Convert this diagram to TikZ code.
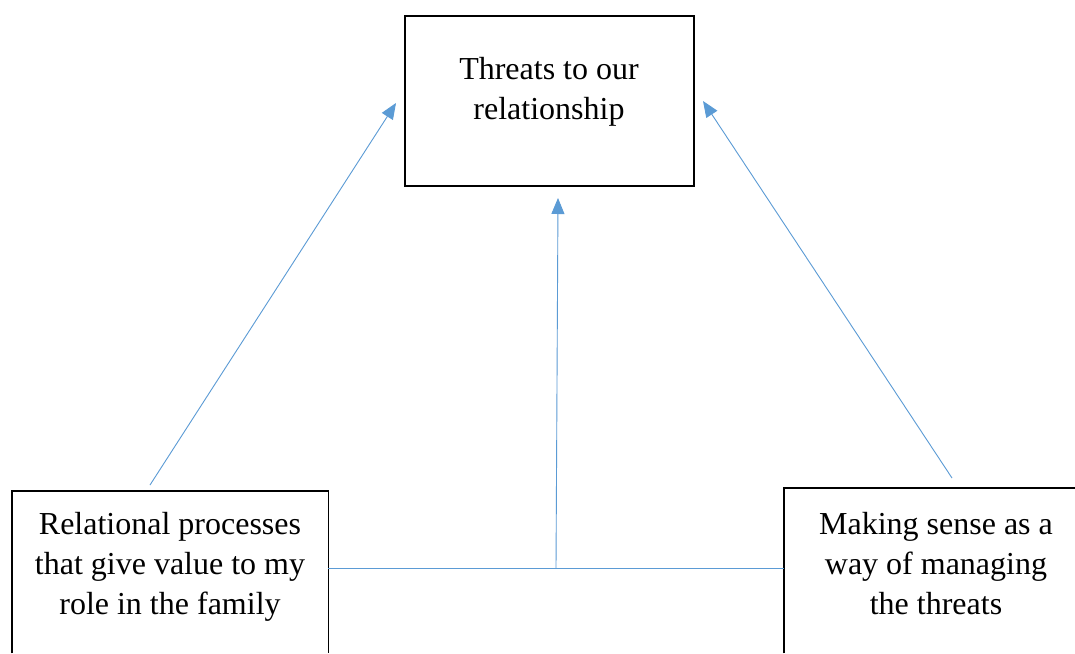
\documentclass[tikz,border=0pt]{standalone}
\usepackage{fontspec}
\setmainfont{Liberation Serif}
\usetikzlibrary{arrows.meta}
\definecolor{wordblue}{RGB}{91,155,213}
\begin{document}
\begin{tikzpicture}[x=1pt,y=-1pt,
  boxnode/.style={draw=black, line width=1.8pt, fill=none, inner sep=0pt, anchor=north west},
  openbox/.style={draw=none, inner sep=0pt, anchor=north west},
  boxline/.style={draw=black, line width=1.8pt},
  txt/.style={align=center, inner sep=0pt, anchor=north, font=\fontsize{32}{40}\selectfont},
  conn/.style={draw=wordblue, line width=0.9pt},
  arr/.style={conn, -{Triangle[length=16pt,width=13pt]}}
]
\useasboundingbox (0,0) rectangle (1075,653);
\fill[white] (0,0) rectangle (1075,653);
% boxes
\node[boxnode, minimum width=289pt, minimum height=170pt] (thr) at (404,15) {};
\node[openbox, minimum width=316pt, minimum height=162pt] (rel) at (12,491) {};
\node[openbox, minimum width=291pt, minimum height=165pt] (mak) at (784,488) {};
\draw[boxline] (rel.south west) -- (rel.north west) -- (rel.north east) -- (rel.south east);
\draw[boxline] (mak.south west) -- (mak.north west) -- (mak.north east);
% texts
\node[txt] (thrtext) at (549,57) {Threats to our\\relationship};
\node[txt] (reltext) at (170,512) {Relational processes\\that give value to my\\role in the family};
\node[txt] (maktext) at (936,512) {Making sense as a\\way of managing\\the threats};
% connector points
\coordinate (hl) at (556,568);
\coordinate (lstart) at (150,485);
\coordinate (ltip) at (396,103);
\coordinate (rstart) at (952,478);
\coordinate (rtip) at (703,101);
\coordinate (mtip) at (558,198);
% connectors
\draw[conn] (rel.east |- hl) -- (mak.west |- hl);
\draw[arr] (hl) -- (mtip);
\draw[arr] (lstart) -- (ltip);
\draw[arr] (rstart) -- (rtip);
\end{tikzpicture}
\end{document}
